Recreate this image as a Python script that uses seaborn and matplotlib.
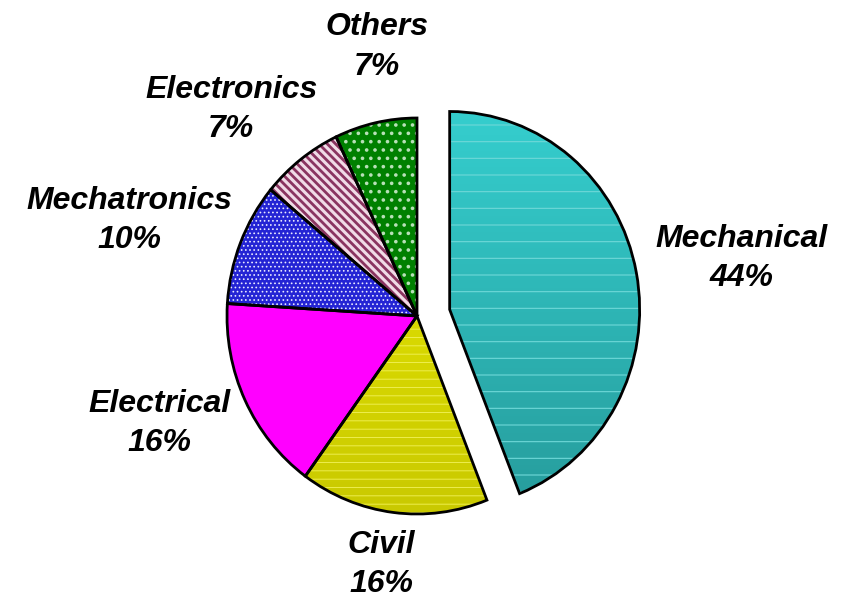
import numpy as np
import matplotlib
matplotlib.use("Agg")
import matplotlib.pyplot as plt
import seaborn as sns
from matplotlib.colors import LinearSegmentedColormap

# Chart data
categories = ["Mechanical", "Civil", "Electrical", "Mechatronics", "Electronics", "Others"]
shares = [44, 16, 16, 10, 7, 7]

# Styling
face_colors = ["none", "none", "#ff00ff", "#2424d4", "#f0dbe6", "#008000"]
hatch_colors = ["#6fd8d8", "#f2f25a", "#ff00ff", "#e8e8ff", "#8a3460", "#b8e0b8"]
hatches = ["-", "--", "", "....", "\\\\\\\\", ".."]
hatch_widths = [0.8, 0.6, 0.0, 0.7, 2.0, 1.4]
gradients = {0: ("#36d2d2", "#259797"), 1: ("#eeee00", "#c6c600")}
explode = [0.175, 0, 0, 0, 0, 0]
label_dist = [1.73, 1.27, 1.46, 1.59, 1.43, 1.375]
label_tweak = [-1.2, -1.3, -3.3, 3.9, 5.3, -3.8]

sns.set_theme(style="white")
plt.rcParams["font.family"] = ["Liberation Sans", "DejaVu Sans"]

fig = plt.figure(figsize=(8.43, 6), dpi=100)
ax = fig.add_axes([0, 0, 1, 1])

# fill + hatch layer
wedges, _ = ax.pie(shares, explode=explode, startangle=90, counterclock=False,
                   colors=["white"] * len(shares), wedgeprops=dict(linewidth=0))
for i, w in enumerate(wedges):
    w.set_facecolor(face_colors[i])
    w.set_edgecolor(hatch_colors[i])
    w.set_linewidth(0)
    w.set_zorder(2)
    if hatches[i]:
        w.set_hatch(hatches[i])
        if hasattr(w, "set_hatch_linewidth"):
            w.set_hatch_linewidth(hatch_widths[i])
    if i in gradients:
        top, bottom = gradients[i]
        cmap = LinearSegmentedColormap.from_list("g%d" % i, [bottom, top])
        grad = np.linspace(0, 1, 256).reshape(-1, 1)
        img = ax.imshow(grad, cmap=cmap, origin="lower", aspect="auto",
                        extent=(-1.5, 1.5, -1.2, 1.2), zorder=1)
        img.set_clip_path(w)

# outline layer
outlines, _ = ax.pie(shares, explode=explode, startangle=90, counterclock=False,
                     colors=["none"] * len(shares),
                     wedgeprops=dict(linewidth=2.0, edgecolor="black", facecolor="none"))
for w in outlines:
    w.set_facecolor("none")
    w.set_zorder(3)

# labels
for i, w in enumerate(wedges):
    mid = np.deg2rad((w.theta1 + w.theta2) / 2 + label_tweak[i])
    r = label_dist[i]
    ax.text(r * np.cos(mid), r * np.sin(mid), "%s\n%d%%" % (categories[i], shares[i]),
            ha="center", va="center", fontsize=23, fontweight="bold",
            fontstyle="italic", linespacing=1.4, color="black", zorder=4)

ax.set_aspect("auto")
ax.set_xlim(-417 / 190, 426 / 190)
ax.set_ylim(-284 / 198, 316 / 198)
ax.axis("off")

fig.savefig("out.png", dpi=100, facecolor="white")
